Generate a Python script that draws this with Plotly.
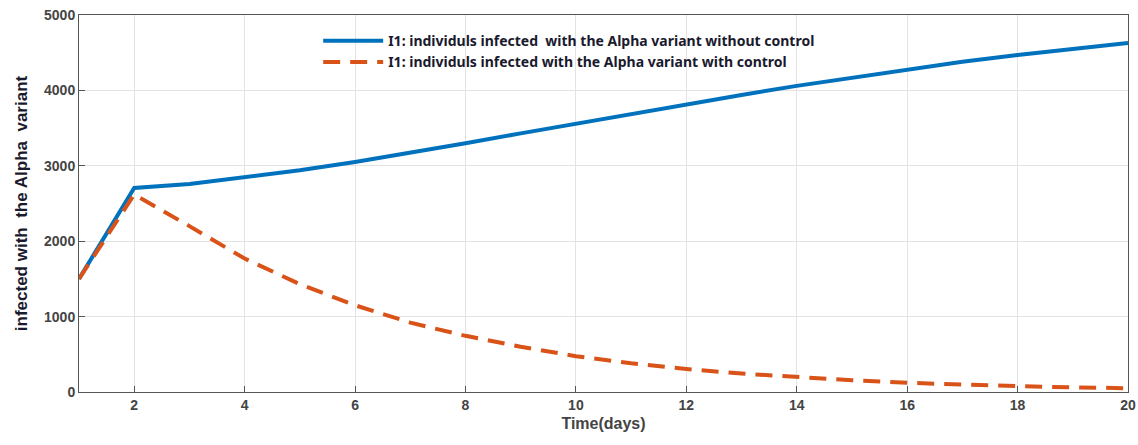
import plotly.graph_objects as go

days = list(range(1, 21))
without_control = [1500, 2705, 2760, 2850, 2940, 3050, 3170, 3300, 3430, 3560,
                   3690, 3820, 3940, 4060, 4170, 4280, 4380, 4470, 4550, 4630]
with_control = [1500, 2620, 2200, 1770, 1430, 1150, 920, 745, 600, 475,
                380, 305, 245, 195, 155, 122, 97, 77, 62, 50]
name_without = "I1: individuls infected  with the Alpha variant without control"
name_with = "I1: individuls infected with the Alpha variant with control"
x_ticks = list(range(2, 21, 2))
y_ticks = [0, 1000, 2000, 3000, 4000, 5000]

fig = go.Figure()
fig.add_trace(go.Scatter(x=days, y=without_control, mode="lines", name=name_without,
                         line=dict(color="#0072BD", width=4)))
fig.add_trace(go.Scatter(x=days, y=with_control, mode="lines", name=name_with,
                         line=dict(color="#D95319", width=4, dash="17px,10px")))

axis_common = dict(showline=True, linecolor="#555555", linewidth=1, mirror=True,
                   ticks="inside", ticklen=6, tickcolor="#555555",
                   showgrid=True, gridcolor="#e3e3e3", gridwidth=1, zeroline=False,
                   ticklabeloverflow="allow", automargin=False,
                   tickfont=dict(family="Liberation Sans", size=14, color="#444444", weight="bold"))

fig.update_xaxes(range=[1, 20], tickvals=x_ticks, **axis_common,
                 title=dict(text="Time(days)", standoff=6,
                            font=dict(family="Liberation Sans Narrow, Liberation Sans", size=16,
                                      color="#444444", weight="bold")))
fig.update_yaxes(range=[0, 5000], tickvals=y_ticks, **axis_common,
                 title=dict(text="infected with  the Alpha  variant", standoff=12,
                            font=dict(family="Liberation Sans Narrow, Liberation Sans", size=17,
                                      color="#1a1a2e", weight="bold")))

fig.update_layout(
    width=1138, height=445,
    margin=dict(l=79, r=10, t=15, b=53),
    plot_bgcolor="white", paper_bgcolor="white",
    showlegend=True,
    legend=dict(x=0.228, y=0.973, xanchor="left", yanchor="top",
                bgcolor="rgba(255,255,255,0)", borderwidth=0,
                font=dict(family="Noto Sans", size=14, color="#1a1a2e", weight="bold"),
                itemwidth=60, tracegroupgap=0),
)

fig.write_html("out.html", config={"displayModeBar": False},
               post_script="document.body.style.margin='0';document.body.style.overflow='hidden';")
